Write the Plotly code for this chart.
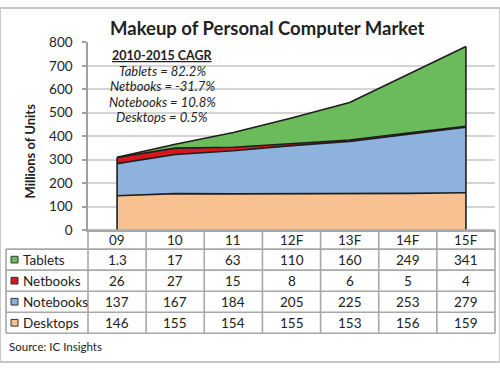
import plotly.graph_objects as go

# ---------------- data ----------------
years = ["09", "10", "11", "12F", "13F", "14F", "15F"]
tablets = [1.3, 17, 63, 110, 160, 249, 341]
netbooks = [26, 27, 15, 8, 6, 5, 4]
notebooks = [137, 167, 184, 205, 225, 253, 279]
desktops = [146, 155, 154, 155, 153, 156, 159]

row_names = ["Tablets", "Netbooks", "Notebooks", "Desktops"]
row_values = [tablets, netbooks, notebooks, desktops]
row_colors = ["#6BBB5C", "#D6171D", "#8EB2DE", "#F8C192"]

title_text = "Makeup of Personal Computer Market"
cagr_title = "2010-2015 CAGR"
cagr_lines = ["Tablets = 82.2%", "Netbooks = -31.7%", "Notebooks = 10.8%", "Desktops = 0.5%"]
y_title = "Millions of Units"
source_text = "Source: IC Insights"
y_ticks = [0, 100, 200, 300, 400, 500, 600, 700, 800]

# ---------------- layout geometry (pixels) ----------------
W, H = 500, 370
FONT = "Lato, Carlito, Calibri, sans-serif"
TXT = "#222222"
GRID = "#a8a8a8"
PX0, PX1 = 88, 495          # plot area x
PY0, PY1 = 36, 232          # plot area y (top, bottom)
ROW_EDGES = [232, 252, 274, 296, 318, 340]
LABEL_X0 = 6


def fx(p):
    return p / W


def fy(p):
    return 1 - p / H


n = len(years)
colw = (PX1 - PX0) / n
xs = list(range(n))

fig = go.Figure()

# stacked areas, bottom to top
for name, vals, col in reversed(list(zip(row_names, row_values, row_colors))):
    fig.add_trace(go.Scatter(
        x=xs, y=vals, name=name, stackgroup="one", mode="lines",
        line=dict(color="#1e1e1e", width=1.6), fillcolor=col,
        hoverinfo="x+y+name",
    ))

# vertical edges of the area (from data totals)
totals = [sum(v[i] for v in row_values) for i in range(n)]
for i in (0, n - 1):
    fig.add_trace(go.Scatter(
        x=[i, i], y=[0, totals[i]], mode="lines",
        line=dict(color="#1e1e1e", width=1.6), showlegend=False, hoverinfo="skip",
    ))

shapes = []
annotations = []

# table grid
for k in range(n + 1):
    x = fx(PX0 + k * colw)
    shapes.append(dict(type="line", xref="paper", yref="paper", x0=x, x1=x,
                       y0=fy(ROW_EDGES[0]), y1=fy(ROW_EDGES[-1]),
                       line=dict(color=GRID, width=1.6)))
shapes.append(dict(type="line", xref="paper", yref="paper", x0=fx(LABEL_X0), x1=fx(LABEL_X0),
                   y0=fy(ROW_EDGES[1]), y1=fy(ROW_EDGES[-1]), line=dict(color=GRID, width=1.6)))
for j, yy in enumerate(ROW_EDGES):
    x0 = PX0 if j == 0 else LABEL_X0
    shapes.append(dict(type="line", xref="paper", yref="paper", x0=fx(x0), x1=fx(PX1),
                       y0=fy(yy), y1=fy(yy), line=dict(color=GRID, width=1.6)))

# header row
hy = (ROW_EDGES[0] + ROW_EDGES[1]) / 2
for i, yr in enumerate(years):
    annotations.append(dict(x=i, y=fy(hy), xref="x", yref="paper", text=yr, showarrow=False,
                            font=dict(family=FONT, size=13.5, color=TXT), xanchor="center", yanchor="middle"))

# data rows
for r, (name, vals, col) in enumerate(zip(row_names, row_values, row_colors)):
    cy = (ROW_EDGES[r + 1] + ROW_EDGES[r + 2]) / 2
    shapes.append(dict(type="rect", xref="paper", yref="paper", x0=fx(11), x1=fx(18),
                       y0=fy(cy + 3.5), y1=fy(cy - 3.5), fillcolor=col,
                       line=dict(color="#333333", width=1)))
    annotations.append(dict(x=fx(21), y=fy(cy), xref="paper", yref="paper", text=name,
                            showarrow=False, xanchor="left", yanchor="middle",
                            font=dict(family=FONT, size=13.5, color=TXT)))
    for i, v in enumerate(vals):
        annotations.append(dict(x=i, y=fy(cy), xref="x", yref="paper", text=str(v),
                                showarrow=False, xanchor="center", yanchor="middle",
                                font=dict(family=FONT, size=13.5, color=TXT)))

# title
annotations.append(dict(x=fx(267), y=fy(21), xref="paper", yref="paper", text="<b>" + title_text + "</b>",
                        showarrow=False, xanchor="center", yanchor="middle",
                        font=dict(family=FONT, size=18.5, color=TXT)))
# CAGR box
annotations.append(dict(x=fx(162), y=fy(50), xref="paper", yref="paper",
                        text="<b><u>" + cagr_title + "</u></b>", showarrow=False,
                        xanchor="center", yanchor="middle", font=dict(family=FONT, size=12.5, color=TXT)))
for k, line in enumerate(cagr_lines):
    annotations.append(dict(x=fx(162), y=fy(66 + 16 * k), xref="paper", yref="paper",
                            text="<i>" + line + "</i>", showarrow=False,
                            xanchor="center", yanchor="middle", font=dict(family=FONT, size=13, color=TXT)))
# y title
annotations.append(dict(x=fx(30), y=fy(150), xref="paper", yref="paper", text="<b>" + y_title + "</b>",
                        textangle=-90, showarrow=False, xanchor="center", yanchor="middle",
                        font=dict(family=FONT, size=13, color=TXT)))
# source
annotations.append(dict(x=fx(7), y=fy(354), xref="paper", yref="paper", text=source_text,
                        showarrow=False, xanchor="left", yanchor="middle",
                        font=dict(family=FONT, size=11.5, color=TXT)))

# outer border
shapes.append(dict(type="rect", xref="paper", yref="paper", x0=0, x1=1, y0=0, y1=1,
                   line=dict(color="#c8c8c8", width=2)))

fig.update_layout(
    width=W, height=H, margin=dict(l=0, r=0, t=0, b=0),
    paper_bgcolor="white", plot_bgcolor="white", showlegend=False,
    shapes=shapes, annotations=annotations,
    xaxis=dict(domain=[fx(PX0), fx(PX1)], range=[-0.5, n - 0.5], showticklabels=False,
               showgrid=False, zeroline=False, ticks="", showline=True, linecolor=GRID, linewidth=1.6,
               fixedrange=True),
    yaxis=dict(domain=[fy(PY1), fy(PY0)], range=[0, 800], tickvals=y_ticks,
               showgrid=True, gridcolor="#d4d4d4", gridwidth=1.5, zeroline=False,
               showline=True, linecolor="#a0a0a0", linewidth=1.5,
               ticks="outside", ticklen=4, tickcolor="#a0a0a0", tickwidth=1.5,
               ticklabelstandoff=7,
               tickfont=dict(family=FONT, size=13.5, color=TXT), fixedrange=True),
)

fig.write_html("out.html", config={"displayModeBar": False},
               post_script="document.body.style.margin='0';document.documentElement.style.overflow='hidden';")
